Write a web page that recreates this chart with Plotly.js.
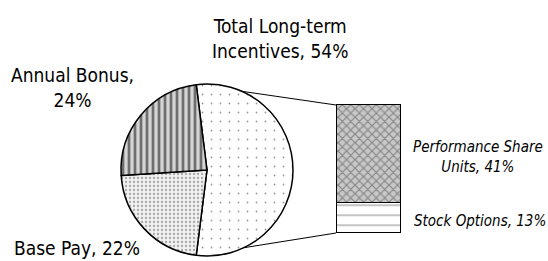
<!DOCTYPE html>
<html><head><meta charset="utf-8">
<script src="https://cdn.plot.ly/plotly-3.0.1.min.js"></script>
<style>html,body{margin:0;padding:0;background:#fff}#chart{width:548px;height:261px}</style>
</head><body><div id="chart"></div>
<script>
// ---- data ----
const pieLabels = ['Total Long-term Incentives', 'Base Pay', 'Annual Bonus'];
const pieValues = [54, 22, 24];
const barLabels = ['Stock Options', 'Performance Share Units'];
const barValues = [13, 41];

// ---- layout geometry (pixels) ----
const W = 548, H = 261;
const pie = {cx: 207, cy: 170, r: 86};
const rotation = -7.2;
const bar = {x0: 336, x1: 400, top: 105, bottom: 233};
const FONT = '"DejaVu Sans Condensed", "Liberation Sans Narrow", sans-serif';

const pieTotal = pieValues.reduce((a, b) => a + b, 0);
const barTotal = barValues.reduce((a, b) => a + b, 0);

const pieTrace = {
  type: 'pie', labels: pieLabels, values: pieValues, sort: false,
  direction: 'clockwise', rotation: rotation, textinfo: 'none', hoverinfo: 'none',
  domain: {x: [(pie.cx - pie.r) / W, (pie.cx + pie.r) / W],
           y: [(H - pie.cy - pie.r) / H, (H - pie.cy + pie.r) / H]},
  marker: {
    colors: ['#ffffff', '#f2f2f2', '#d9d9d9'],
    line: {color: '#000', width: 1.5},
    pattern: {
      shape: ['.', '.', '|'],
      fgcolor: ['#9a9a9a', '#a8a8a8', '#6e6e6e'],
      bgcolor: ['#ffffff', '#f0f0f0', '#d4d4d4'],
      size: [9, 4, 6],
      solidity: [0.03, 0.25, 0.45],
      fillmode: 'replace'
    }
  }
};

const barPatterns = {
  shape: ['-', 'x'], fgcolor: ['#b0b0b0', '#858585'], bgcolor: ['#ffffff', '#c8c8c8'],
  size: [10, 6], solidity: [0.15, 0.35]
};
const barTraces = barLabels.map((lab, i) => ({
  type: 'bar', x: [0], y: [barValues[i]], name: lab, width: 1,
  xaxis: 'x', yaxis: 'y', hoverinfo: 'none',
  marker: {color: barPatterns.bgcolor[i], line: {color: '#000', width: 1},
    pattern: {shape: barPatterns.shape[i], fgcolor: barPatterns.fgcolor[i],
              bgcolor: barPatterns.bgcolor[i], size: barPatterns.size[i],
              solidity: barPatterns.solidity[i]}}
}));

// bar axis with a little padding so the outline is not clipped
const padX = 0.1, padY = 2;
const pxPerX = (bar.x1 - bar.x0) / 1;
const pxPerY = (bar.bottom - bar.top) / barTotal;
const xDom = [(bar.x0 - padX * pxPerX) / W, (bar.x1 + padX * pxPerX) / W];
const yDom = [(H - bar.bottom - padY * pxPerY) / H, (H - bar.top + padY * pxPerY) / H];

// connectors: from the edges of the first pie slice to the bar's left corners
const deg = Math.PI / 180;
const a0 = rotation * deg;
const a1 = (rotation + 360 * pieValues[0] / pieTotal) * deg;
const conn = {
  type: 'scatter', mode: 'lines', xaxis: 'x2', yaxis: 'y2', hoverinfo: 'none',
  x: [pie.cx + pie.r * Math.sin(a0), bar.x0, null, pie.cx + pie.r * Math.sin(a1), bar.x0],
  y: [pie.cy - pie.r * Math.cos(a0), bar.top, null, pie.cy - pie.r * Math.cos(a1), bar.bottom],
  line: {color: '#000', width: 1}
};

const ann = (x, y, text, italic, size) => ({
  xref: 'paper', yref: 'paper', x: x / W, y: 1 - y / H, text: text, showarrow: false,
  xanchor: 'center', yanchor: 'middle', align: 'center',
  font: {family: FONT, size: size, color: '#000', style: italic ? 'italic' : 'normal'}
});

const layout = {
  width: W, height: H, margin: {l: 0, r: 0, t: 0, b: 0},
  paper_bgcolor: '#fff', plot_bgcolor: 'rgba(0,0,0,0)', showlegend: false,
  barmode: 'stack', hovermode: false,
  xaxis: {domain: xDom, range: [-0.5 - padX, 0.5 + padX], visible: false, fixedrange: true},
  yaxis: {domain: yDom, range: [-padY, barTotal + padY], visible: false, fixedrange: true},
  xaxis2: {domain: [0, 1], range: [0, W], visible: false, anchor: 'y2'},
  yaxis2: {domain: [0, 1], range: [H, 0], visible: false, anchor: 'x2'},
  annotations: [
    ann(280, 38, 'Total Long-term<br>Incentives, ' + pieValues[0] + '%', false, 19),
    ann(72, 88, 'Annual Bonus,<br>' + pieValues[2] + '%', false, 19),
    ann(77, 248, pieLabels[1] + ', ' + pieValues[1] + '%', false, 19),
    ann(478, 157, 'Performance Share<br>Units, ' + barValues[1] + '%', true, 15),
    ann(480, 221, barLabels[0] + ', ' + barValues[0] + '%', true, 15)
  ]
};

Plotly.newPlot('chart', [...barTraces, conn, pieTrace], layout, {displayModeBar: false, staticPlot: true});
</script></body></html>
